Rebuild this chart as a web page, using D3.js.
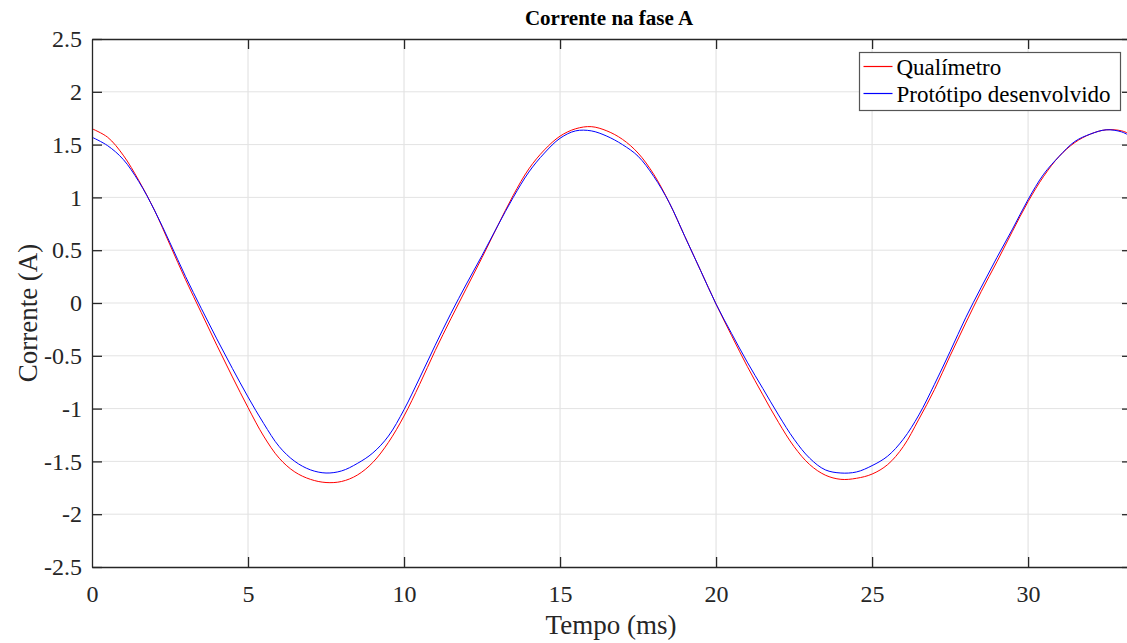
<!DOCTYPE html>
<html>
<head>
<meta charset="utf-8">
<script src="https://cdn.jsdelivr.net/npm/d3@7"></script>
<style>
  body { margin: 0; background: #fff; }
  svg { display: block; font-family: "Liberation Serif", "Times New Roman", serif; }
</style>
</head>
<body>
<div id="chart"></div>
<script>
// time (ms)
const tempo = [0, 0.5, 1, 1.5, 2, 2.5, 3, 3.5, 4, 4.5, 5, 5.5, 6, 6.5, 7, 7.5, 8, 8.5, 9, 9.5,
  10, 10.5, 11, 11.5, 12, 12.5, 13, 13.5, 14, 14.5, 15, 15.5, 16, 16.5, 17, 17.5, 18, 18.5, 19, 19.5,
  20, 20.5, 21, 21.5, 22, 22.5, 23, 23.5, 24, 24.5, 25, 25.5, 26, 26.5, 27, 27.5, 28, 28.5, 29, 29.5,
  30, 30.5, 31, 31.5, 32, 32.5, 33, 33.33];

// Qualímetro (A)
const qualimetro = [1.65, 1.57, 1.40, 1.16, 0.88, 0.55, 0.22, -0.09, -0.40, -0.70, -0.99, -1.26, -1.47, -1.60, -1.67, -1.70, -1.69, -1.63, -1.51, -1.32,
  -1.07, -0.77, -0.45, -0.15, 0.14, 0.43, 0.73, 1.02, 1.27, 1.45, 1.58, 1.65, 1.67, 1.63, 1.55, 1.42, 1.22, 0.95, 0.63, 0.31,
  -0.01, -0.31, -0.60, -0.87, -1.13, -1.36, -1.53, -1.63, -1.67, -1.66, -1.62, -1.53, -1.36, -1.10, -0.82, -0.50, -0.19, 0.11, 0.39, 0.68,
  0.96, 1.20, 1.39, 1.52, 1.60, 1.64, 1.63, 1.59];

// Protótipo desenvolvido (A)
const prototipo = [1.57, 1.49, 1.36, 1.15, 0.88, 0.57, 0.25, -0.05, -0.34, -0.62, -0.89, -1.14, -1.36, -1.50, -1.58, -1.61, -1.59, -1.52, -1.42, -1.26,
  -1.01, -0.71, -0.40, -0.10, 0.18, 0.45, 0.73, 1.00, 1.24, 1.42, 1.56, 1.63, 1.63, 1.58, 1.50, 1.39, 1.20, 0.95, 0.63, 0.31,
  -0.01, -0.29, -0.56, -0.81, -1.06, -1.29, -1.47, -1.58, -1.61, -1.60, -1.54, -1.45, -1.29, -1.06, -0.77, -0.46, -0.14, 0.15, 0.43, 0.70,
  0.98, 1.22, 1.39, 1.53, 1.60, 1.64, 1.62, 1.57];

const xTicks = [0, 5, 10, 15, 20, 25, 30];
const yTicks = [-2.5, -2, -1.5, -1, -0.5, 0, 0.5, 1, 1.5, 2, 2.5];

const series = [
  { name: "Qualímetro", color: "#ff0000", values: qualimetro },
  { name: "Protótipo desenvolvido", color: "#0000ff", values: prototipo }
];

const width = 1127, height = 643;
const margin = { top: 39, right: -5, bottom: 76, left: 92 };
const innerW = width - margin.left - margin.right;
const innerH = height - margin.top - margin.bottom;

const svg = d3.select("#chart").append("svg")
  .attr("width", width)
  .attr("height", height);

const g = svg.append("g")
  .attr("transform", `translate(${margin.left},${margin.top})`);

const x = d3.scaleLinear().domain([0, 33.33]).range([0, innerW]);
const y = d3.scaleLinear().domain([-2.5, 2.5]).range([innerH, 0]);

// grid
g.append("g").selectAll("line")
  .data(xTicks.slice(1))
  .enter().append("line")
  .attr("x1", d => x(d)).attr("x2", d => x(d))
  .attr("y1", 0).attr("y2", innerH)
  .attr("stroke", "#dedede").attr("stroke-width", 1);

g.append("g").selectAll("line")
  .data(yTicks.slice(1, -1))
  .enter().append("line")
  .attr("x1", 0).attr("x2", innerW)
  .attr("y1", d => y(d)).attr("y2", d => y(d))
  .attr("stroke", "#e3e3e3").attr("stroke-width", 1);

// lines
g.append("clipPath").attr("id", "clip")
  .append("rect").attr("width", innerW).attr("height", innerH);

const line = d3.line()
  .x((d, i) => x(tempo[i]))
  .y(d => y(d))
  .curve(d3.curveCatmullRom);

g.append("g").attr("clip-path", "url(#clip)")
  .selectAll("path")
  .data(series)
  .enter().append("path")
  .attr("d", d => line(d.values))
  .attr("fill", "none")
  .attr("stroke", d => d.color)
  .attr("stroke-width", 1);

// axes (ticks inside, box on)
const axisColor = "#262626";
const tickLen = 10;

const xBottom = g.append("g")
  .attr("transform", `translate(0,${innerH})`)
  .call(d3.axisBottom(x).tickValues(xTicks).tickSizeInner(-tickLen).tickSizeOuter(0).tickPadding(18));
const xTop = g.append("g")
  .call(d3.axisTop(x).tickValues(xTicks).tickSizeInner(-tickLen).tickSizeOuter(0).tickFormat(""));
const yLeft = g.append("g")
  .call(d3.axisLeft(y).tickValues(yTicks).tickSizeInner(-tickLen).tickSizeOuter(0).tickPadding(10)
    .tickFormat(d => d));
const yRight = g.append("g")
  .attr("transform", `translate(${innerW},0)`)
  .call(d3.axisRight(y).tickValues(yTicks).tickSizeInner(-tickLen).tickSizeOuter(0).tickFormat(""));

[xBottom, xTop, yLeft, yRight].forEach(a => {
  a.attr("font-family", "Liberation Serif, serif").attr("font-size", 24);
  a.select(".domain").attr("stroke", axisColor).attr("stroke-width", 1.3);
  a.selectAll(".tick line").attr("stroke", axisColor).attr("stroke-width", 1.3);
  a.selectAll(".tick text").attr("fill", "#262626");
});
xBottom.selectAll(".tick").filter(d => d === 0).select("line").remove();
xTop.selectAll(".tick").filter(d => d === 0).select("line").remove();

// title and labels
svg.append("text")
  .attr("x", 609).attr("y", 25)
  .attr("text-anchor", "middle")
  .style("font-size", "21px")
  .style("font-weight", "bold")
  .text("Corrente na fase A");

svg.append("text")
  .attr("x", 611).attr("y", 634)
  .attr("text-anchor", "middle")
  .attr("fill", "#262626")
  .style("font-size", "27px")
  .text("Tempo (ms)");

svg.append("text")
  .attr("transform", "translate(37,313) rotate(-90)")
  .attr("text-anchor", "middle")
  .attr("fill", "#262626")
  .style("font-size", "27px")
  .text("Corrente (A)");

// legend
const legend = svg.append("g").attr("transform", "translate(859.5,52.5)");
legend.append("rect")
  .attr("width", 261).attr("height", 58)
  .attr("fill", "#fff")
  .attr("stroke", "#555").attr("stroke-width", 1.2);

const items = legend.selectAll(".item")
  .data(series)
  .enter().append("g")
  .attr("class", "item")
  .attr("transform", (d, i) => `translate(0,${14 + i * 27})`);

items.append("line")
  .attr("x1", 4).attr("x2", 33)
  .attr("stroke", d => d.color).attr("stroke-width", 1.2);

items.append("text")
  .attr("x", 37).attr("y", 8.5)
  .style("font-size", "23px")
  .text(d => d.name);
</script>
</body>
</html>
